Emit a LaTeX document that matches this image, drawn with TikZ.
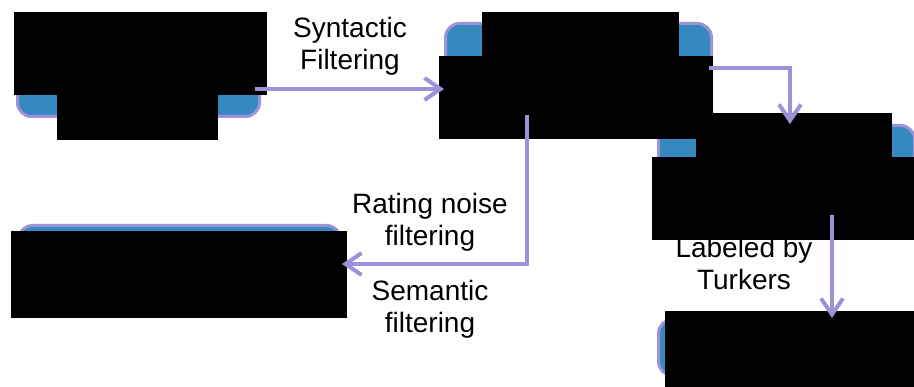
\documentclass[tikz,border=0pt]{standalone}
\usepackage{fontspec}
\setmainfont{Liberation Sans}
\usetikzlibrary{arrows.meta}
\definecolor{boxblue}{RGB}{53,137,190}
\definecolor{lav}{RGB}{158,145,216}
\begin{document}
\begin{tikzpicture}[x=1pt,y=-1pt,
  stage/.style={draw=lav, line width=3pt, fill=boxblue, rounded corners=14pt, inner sep=0pt, anchor=north west},
  mask/.style={fill=black, draw=none, inner sep=0pt, outer sep=0pt, anchor=north west},
  arr/.style={draw=lav, line width=4pt, -{Straight Barb[length=16pt,width=22pt]}},
  lbl/.style={font=\fontsize{28}{32}\selectfont, align=center, inner sep=0pt}]
\useasboundingbox (0,0) rectangle (914,387);
% stages
\node[stage, minimum width=242pt, minimum height=90pt]  (b1) at (16,25)  {};
\node[stage, minimum width=266pt, minimum height=103pt] (b2) at (444,22) {};
\node[stage, minimum width=256pt, minimum height=101pt] (b3) at (657,124) {};
\node[stage, minimum width=322pt, minimum height=76pt]  (b4) at (17,224) {};
\node[stage, minimum width=256pt, minimum height=56pt]  (b5) at (657,318) {};
% labels
\node[lbl] (l1) at (350,46)  {Syntactic\\Filtering};
\node[lbl] (l2) at (430,222) {Rating noise\\filtering};
\node[lbl] (l3) at (430,309) {Semantic\\filtering};
\node[lbl] (l4) at (744,263) {Labeled by\\Turkers};
% masks
\node[mask, minimum width=253pt, minimum height=83pt] (mA) at (14,12)  {};
\node[mask, minimum width=161pt, minimum height=45pt] (mB) at (57,95)  {};
\node[mask, minimum width=197pt, minimum height=44pt] (mC) at (482,12) {};
\node[mask, minimum width=274pt, minimum height=83pt] (mD) at (439,56) {};
\node[mask, minimum width=336pt, minimum height=87pt] (mE) at (11,231) {};
\node[mask, minimum width=196pt, minimum height=44pt] (mF) at (696,113) {};
\node[mask, minimum width=262pt, minimum height=83pt] (mG) at (652,157) {};
\node[mask, minimum width=249pt, minimum height=76pt] (mH) at (665,311) {};
% connectors
\coordinate (s1) at (255,89);
\coordinate (s2) at (709,68);
\coordinate (s3) at (527,115);
\coordinate (s4) at (832,215);
\draw[arr] (s1) -- (s1 -| b2.west);
\draw[arr] (s2) -| (790,0 |- b3.north);
\draw[arr] (s3) |- (b4.east |- 0,264);
\draw[arr] (s4) -- (s4 |- b5.north);
\end{tikzpicture}
\end{document}
